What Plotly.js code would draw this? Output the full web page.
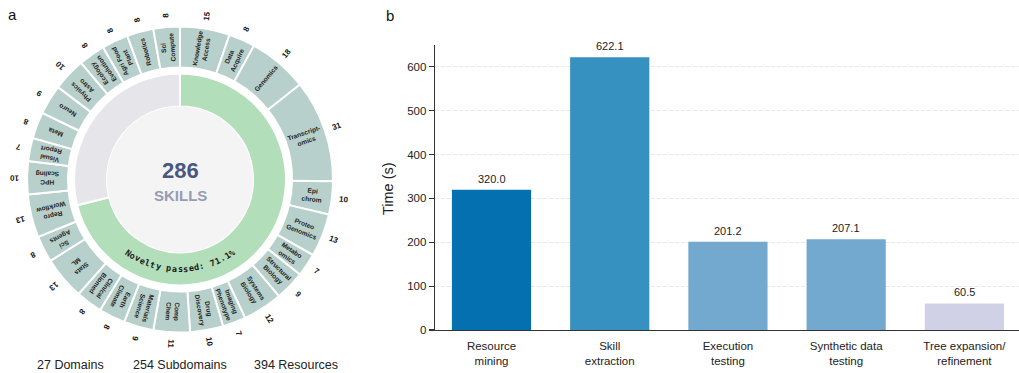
<!DOCTYPE html>
<html>
<head>
<meta charset="utf-8">
<script src="https://cdn.plot.ly/plotly-3.0.1.min.js"></script>
<style>
  html, body { margin: 0; padding: 0; background: #ffffff; }
  #chart { width: 1019px; height: 373px; }
</style>
</head>
<body>
<div id="chart"></div>
<script>
// ---- Panel a: skill domains (clockwise from 12 o'clock) ----
const domainLabels = [
  'Knowledge<br>Access', 'Data<br>Acquire', 'Genomics', 'Transcript-<br>omics', 'Epi<br>chrom',
  'Proteo<br>Genomics', 'Metabo<br>omics', 'Structural<br>Biology', 'Systems<br>Biology', 'Imaging<br>Phenotype',
  'Drug<br>Discovery', 'Comp<br>Chem', 'Materials<br>Science', 'Earth<br>Climate', 'Clinical<br>Biomed',
  'Stats<br>ML', 'Sci<br>Agents', 'Repro<br>Workflow', 'HPC<br>Scaling', 'Visual<br>Report',
  'Meta', 'Neuro', 'Physics<br>Astro', 'Ecology<br>Evolution', 'Agri Food<br>Plant',
  'Robotics', 'Sci<br>Compute'
];
const domainSkills = [
  15, 8, 18, 31, 10,
  13, 7, 9, 12, 7,
  10, 11, 9, 8, 8,
  13, 8, 13, 10, 7,
  8, 9, 10, 8, 8,
  8, 8
];
const noveltyPassed = 71.1;           // percent of skills
const summaryCounts = [27, 254, 394];
const summaryNames = ['Domains', 'Subdomains', 'Resources'];

// ---- Panel b: pipeline stage timing ----
const stageNames = ['Resource<br>mining', 'Skill<br>extraction', 'Execution<br>testing',
                    'Synthetic data<br>testing', 'Tree expansion/<br>refinement'];
const stageTimes = [320.0, 622.1, 201.2, 207.1, 60.5];
const stageColors = ['#0570b0', '#3690c0', '#74a9cf', '#74a9cf', '#d0d1e6'];

// ---- geometry helpers (pixel -> paper) ----
const W = 1019, H = 373;
const px = x => x / W;
const py = y => 1 - y / H;
const cx = 180, cy = 179.5;
const rOuter = 153, rOuterIn = 112;
const rInner = 106, rInnerIn = 73;
const FONT = 'Liberation Sans, Arial, Helvetica, sans-serif';

function ringDomain(r) {
  return { x: [px(cx - r), px(cx + r)], y: [py(cy + r), py(cy - r)] };
}
function normAngle(a) {
  while (a > 180) a -= 360;
  while (a <= -180) a += 360;
  return a;
}

const totalSkills = domainSkills.reduce((a, b) => a + b, 0);

const outerRing = {
  type: 'pie',
  values: domainSkills,
  labels: domainLabels,
  sort: false,
  direction: 'clockwise',
  rotation: 0,
  hole: rOuterIn / rOuter,
  domain: ringDomain(rOuter),
  textinfo: 'none',
  hoverinfo: 'skip',
  showlegend: false,
  marker: { colors: domainSkills.map(() => '#b7d0cb'), line: { color: '#ffffff', width: 2 } }
};

const innerRing = {
  type: 'pie',
  values: [noveltyPassed, 100 - noveltyPassed],
  labels: ['passed', 'other'],
  sort: false,
  direction: 'clockwise',
  rotation: 0,
  hole: rInnerIn / rInner,
  domain: ringDomain(rInner),
  textinfo: 'none',
  hoverinfo: 'skip',
  showlegend: false,
  marker: { colors: ['#b3deba', '#e6e6ea'], line: { color: '#ffffff', width: 2 } }
};

const bars = {
  type: 'bar',
  x: stageNames,
  y: stageTimes,
  width: 0.67,
  marker: { color: stageColors, line: { width: 0 } },
  hoverinfo: 'skip',
  showlegend: false,
  xaxis: 'x',
  yaxis: 'y'
};

const annotations = [];

// radial domain labels and skill counts
let cum = 0;
domainSkills.forEach((v, i) => {
  const mid = (cum + v / 2) / totalSkills;
  cum += v;
  const theta = 90 - mid * 360;
  const rad = theta * Math.PI / 180;
  const rl = (rOuter + rOuterIn) / 2;
  annotations.push({
    x: px(cx + rl * Math.cos(rad)), y: py(cy - rl * Math.sin(rad)),
    xref: 'paper', yref: 'paper', xanchor: 'center', yanchor: 'middle',
    text: '<b>' + domainLabels[i] + '</b>', showarrow: false,
    textangle: normAngle(-theta),
    font: { family: FONT, size: 6.6, color: '#222222' }
  });
  const rc = 165;
  annotations.push({
    x: px(cx + rc * Math.cos(rad)), y: py(cy - rc * Math.sin(rad)),
    xref: 'paper', yref: 'paper', xanchor: 'center', yanchor: 'middle',
    text: '<b>' + v + '</b>', showarrow: false,
    textangle: normAngle(-theta),
    font: { family: FONT, size: 8, color: '#111111' }
  });
});

// curved novelty caption along the bottom of the inner ring
const caption = 'Novelty passed: ' + noveltyPassed.toFixed(1) + '%';
const stepDeg = 3.53, rCap = 89.5;
const midIdx = (caption.length - 1) / 2;
[...caption].forEach((ch, k) => {
  if (ch === ' ') return;
  const phi = (k - midIdx) * stepDeg;
  const pr = phi * Math.PI / 180;
  annotations.push({
    x: px(cx + rCap * Math.sin(pr)), y: py(cy + rCap * Math.cos(pr)),
    xref: 'paper', yref: 'paper', xanchor: 'center', yanchor: 'middle',
    text: '<b>' + ch + '</b>', showarrow: false, textangle: -phi,
    font: { family: 'DejaVu Sans Mono, monospace', size: 8.5, color: '#1a1a1a' }
  });
});

// centre text
annotations.push({
  x: px(cx), y: py(170), xref: 'paper', yref: 'paper', xanchor: 'center', yanchor: 'middle',
  text: '<b>' + totalSkills + '</b>', showarrow: false,
  font: { family: FONT, size: 22, color: '#4a5680' }
});
annotations.push({
  x: px(cx), y: py(195), xref: 'paper', yref: 'paper', xanchor: 'center', yanchor: 'middle',
  text: '<b>SKILLS</b>', showarrow: false,
  font: { family: FONT, size: 15, color: '#979cb3' }
});

// summary line under the ring
const summaryX = [70, 180, 296];
summaryCounts.forEach((n, i) => {
  annotations.push({
    x: px(summaryX[i]), y: py(365), xref: 'paper', yref: 'paper', xanchor: 'center', yanchor: 'middle',
    text: n + '&nbsp;' + summaryNames[i], showarrow: false,
    font: { family: FONT, size: 12.5, color: '#222222' }
  });
});

// panel letters
annotations.push({ x: px(12), y: py(14), xref: 'paper', yref: 'paper', xanchor: 'center', yanchor: 'middle',
  text: 'a', showarrow: false, font: { family: FONT, size: 15, color: '#111111' } });
annotations.push({ x: px(390), y: py(15), xref: 'paper', yref: 'paper', xanchor: 'center', yanchor: 'middle',
  text: 'b', showarrow: false, font: { family: FONT, size: 15, color: '#111111' } });

// y-axis title for panel b
annotations.push({ x: px(388), y: py(189), xref: 'paper', yref: 'paper', xanchor: 'center', yanchor: 'middle',
  text: 'Time (s)', textangle: -90, showarrow: false, font: { family: FONT, size: 14.5, color: '#222222' } });

// bar value labels
stageTimes.forEach((t, i) => {
  annotations.push({
    x: stageNames[i], y: t, xref: 'x', yref: 'y', xanchor: 'center', yanchor: 'bottom',
    yshift: 3, text: t.toFixed(1), showarrow: false,
    font: { family: FONT, size: 11, color: '#222222' }
  });
});

const layout = {
  width: W, height: H,
  margin: { l: 0, r: 0, t: 0, b: 0, pad: 0 },
  paper_bgcolor: '#ffffff',
  plot_bgcolor: '#ffffff',
  showlegend: false,
  font: { family: FONT, color: '#222222' },
  xaxis: {
    domain: [px(435), 1],
    type: 'category',
    range: [-0.478, 4.462],
    showline: true, linecolor: '#333333', linewidth: 1.3,
    ticks: '', showgrid: false, zeroline: false,
    ticklabelstandoff: 5,
    tickfont: { family: FONT, size: 11.5, color: '#222222' },
    fixedrange: true
  },
  yaxis: {
    domain: [py(330), py(45)],
    range: [0, 650],
    tickvals: [0, 100, 200, 300, 400, 500, 600],
    showline: true, linecolor: '#333333', linewidth: 1.3,
    ticks: 'outside', ticklen: 5, tickwidth: 1.1, tickcolor: '#333333',
    showgrid: true, gridcolor: '#e2e2e2', gridwidth: 0.8, griddash: '4px,2px',
    zeroline: false,
    tickfont: { family: FONT, size: 11.5, color: '#222222' },
    fixedrange: true
  },
  shapes: [{
    type: 'circle', xref: 'paper', yref: 'paper', layer: 'above',
    x0: px(cx - rInnerIn), x1: px(cx + rInnerIn),
    y0: py(cy + rInnerIn), y1: py(cy - rInnerIn),
    fillcolor: '#f4f4f4', line: { width: 0 }
  }],
  annotations: annotations
};

Plotly.newPlot('chart', [outerRing, innerRing, bars], layout, { staticPlot: true, displayModeBar: false });
</script>
</body>
</html>
